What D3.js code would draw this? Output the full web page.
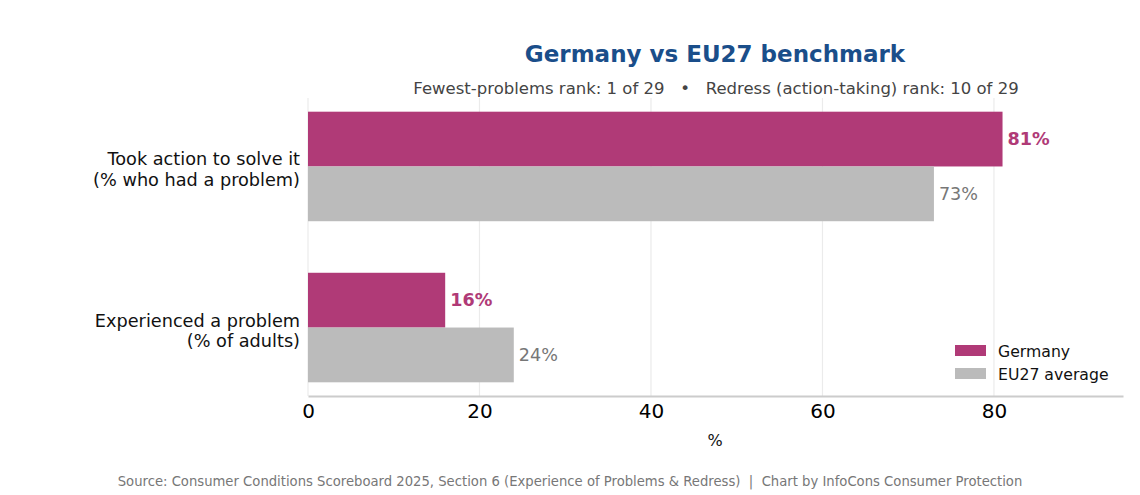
<!DOCTYPE html>
<html>
<head>
<meta charset="utf-8">
<script src="https://cdn.jsdelivr.net/npm/d3@7"></script>
<style>
  body { margin: 0; background: #fff; }
  text { font-family: "DejaVu Sans", sans-serif; white-space: pre; }
</style>
</head>
<body>
<svg width="1140" height="495"></svg>
<script>
// data
const categories = [
  ['Experienced a problem', '(% of adults)'],
  ['Took action to solve it', '(% who had a problem)']
]
const germany = [16, 81]
const eu27 = [24, 73]
const xTicks = [0, 20, 40, 60, 80]
const seriesNames = ['Germany', 'EU27 average']

const colors = { germany: '#b03a77', eu: '#bbbbbb' }

const svg = d3.select('svg')

const x = d3.scaleLinear().domain([0, 95.05]).range([308, 1123])
const y = d3.scaleLinear().domain([-0.425, 1.425]).range([396, 98])
const barH = y(0) - y(0.34)

// grid
svg.append('g').selectAll('line').data(xTicks).enter().append('line')
    .attr('x1', d => x(d)).attr('x2', d => x(d))
    .attr('y1', y(1.425)).attr('y2', y(-0.425))
    .attr('stroke', '#ebebeb').attr('stroke-width', 1.2)

// bars
const rows = categories.map((c, i) => ({ c, i, de: germany[i], eu: eu27[i] }))

svg.append('g').selectAll('rect').data(rows).enter().append('rect')
    .attr('x', x(0))
    .attr('y', d => y(d.i) - barH)
    .attr('width', d => x(d.de) - x(0))
    .attr('height', barH)
    .attr('fill', colors.germany)

svg.append('g').selectAll('rect').data(rows).enter().append('rect')
    .attr('x', x(0))
    .attr('y', d => y(d.i))
    .attr('width', d => x(d.eu) - x(0))
    .attr('height', barH)
    .attr('fill', colors.eu)

// value labels
svg.append('g').selectAll('text').data(rows).enter().append('text')
    .attr('x', d => x(d.de) + 5)
    .attr('y', d => y(d.i) - barH / 2)
    .attr('dy', '0.35em')
    .attr('font-size', 17.6).attr('font-weight', 'bold')
    .attr('fill', colors.germany)
    .text(d => d.de + '%')

svg.append('g').selectAll('text').data(rows).enter().append('text')
    .attr('x', d => x(d.eu) + 5)
    .attr('y', d => y(d.i) + barH / 2)
    .attr('dy', '0.35em')
    .attr('font-size', 17.6)
    .attr('fill', '#777')
    .text(d => d.eu + '%')

// category labels
const cat = svg.append('g').selectAll('text').data(rows).enter().append('text')
    .attr('text-anchor', 'end')
    .attr('font-size', 17.7)
    .attr('fill', '#111')
cat.append('tspan').attr('x', 300).attr('y', d => y(d.i) - 1).text(d => d.c[0])
cat.append('tspan').attr('x', 300).attr('y', d => y(d.i) + 19.5).text(d => d.c[1])

// x axis
const xAxis = svg.append('g')
    .attr('transform', `translate(0,${y(-0.425)})`)
    .call(d3.axisBottom(x).tickValues(xTicks).tickSize(0).tickPadding(8))
xAxis.select('.domain').attr('stroke', '#cccccc').attr('stroke-width', 2)
xAxis.selectAll('text')
    .attr('font-family', '"DejaVu Sans", sans-serif')
    .attr('font-size', 20).attr('fill', '#000')

svg.append('text')
    .attr('x', 715).attr('y', 446)
    .attr('text-anchor', 'middle')
    .attr('font-size', 16).attr('fill', '#111')
    .text('%')

// legend
const legend = svg.append('g').selectAll('g').data(seriesNames).enter().append('g')
    .attr('transform', (d, i) => `translate(955,${345 + i * 23})`)
legend.append('rect')
    .attr('width', 31).attr('height', 11)
    .attr('fill', (d, i) => i === 0 ? colors.germany : colors.eu)
legend.append('text')
    .attr('x', 43).attr('y', 6).attr('dy', '0.35em')
    .attr('font-size', 15.7).attr('fill', '#111')
    .text(d => d)

// title
svg.append('text')
    .attr('x', 715).attr('y', 62)
    .attr('text-anchor', 'middle')
    .attr('font-family', '"DejaVu Sans Condensed", "DejaVu Sans", sans-serif')
    .attr('font-size', 23).attr('font-weight', 'bold')
    .attr('fill', '#1a4e8a')
    .text('Germany vs EU27 benchmark')

svg.append('text')
    .attr('x', 716).attr('y', 94)
    .attr('text-anchor', 'middle')
    .attr('font-family', '"DejaVu Sans Condensed", "DejaVu Sans", sans-serif')
    .attr('font-size', 16.5)
    .attr('fill', '#444')
    .text('Fewest-problems rank: 1 of 29   •   Redress (action-taking) rank: 10 of 29')

svg.append('text')
    .attr('x', 570).attr('y', 486)
    .attr('text-anchor', 'middle')
    .attr('font-size', 13.2)
    .attr('fill', '#777')
    .text('Source: Consumer Conditions Scoreboard 2025, Section 6 (Experience of Problems & Redress)  |  Chart by InfoCons Consumer Protection')
</script>
</body>
</html>
